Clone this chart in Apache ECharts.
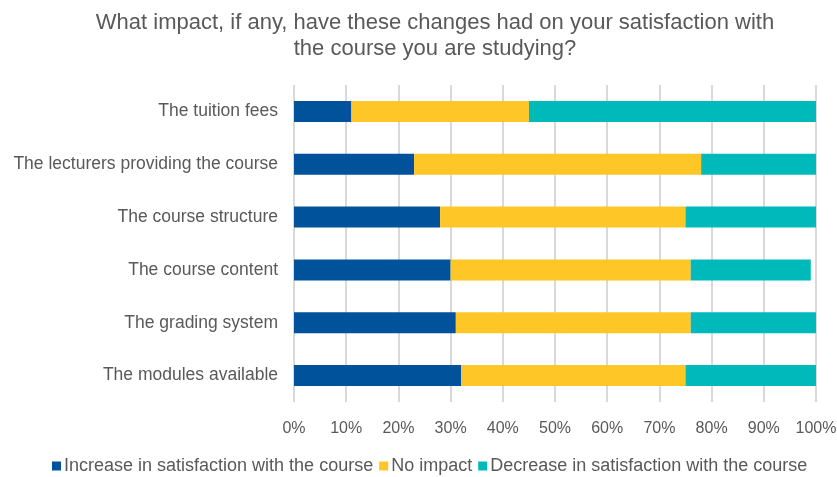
<!DOCTYPE html>
<html>
<head>
<meta charset="utf-8">
<script src="https://cdn.jsdelivr.net/npm/echarts@6/dist/echarts.min.js"></script>
<style>
  html, body { margin: 0; padding: 0; background: #fff; }
  #chart { width: 837px; height: 477px; }
</style>
</head>
<body>
<div id="chart"></div>
<script>
// Survey: effect of course changes on satisfaction (share of respondents, %)
const categories = [
  'The tuition fees',
  'The lecturers providing the course',
  'The course structure',
  'The course content',
  'The grading system',
  'The modules available'
];
const increaseValues = [11, 23, 28, 30, 31, 32];
const noImpactValues = [34, 55, 47, 46, 45, 43];
const decreaseValues = [55, 22, 25, 23, 24, 25];
const tickLabels = ['0%', '10%', '20%', '30%', '40%', '50%', '60%', '70%', '80%', '90%', '100%'];

const seriesNames = [
  'Increase in satisfaction with the course',
  'No impact',
  'Decrease in satisfaction with the course'
];
const colors = ['#00529B', '#FFC627', '#00B9BA'];
const textColor = '#595959';
const font = '"Liberation Sans", Arial, sans-serif';

const chart = echarts.init(document.getElementById('chart'), null, { renderer: 'canvas' });

function bar(name, data, color) {
  return {
    name: name,
    type: 'bar',
    stack: 'total',
    data: data,
    barWidth: 21,
    itemStyle: { color: color },
    emphasis: { disabled: true }
  };
}

chart.setOption({
  animation: false,
  color: colors,
  title: {
    text: 'What impact, if any, have these changes had on your satisfaction with\nthe course you are studying?',
    left: 430,
    textAlign: 'center',
    top: 5,
    textStyle: {
      fontFamily: font,
      fontSize: 22,
      fontWeight: 'normal',
      color: textColor,
      lineHeight: 26
    }
  },
  legend: {
    top: 452,
    left: 47,
    itemWidth: 9,
    itemHeight: 9,
    itemGap: 6,
    icon: 'rect',
    textStyle: { fontFamily: font, fontSize: 18, color: textColor, padding: [0, 0, 0, -2] },
    data: seriesNames
  },
  grid: { left: 294, right: 21, top: 85, bottom: 75, containLabel: false, outerBoundsMode: 'none' },
  xAxis: {
    type: 'value',
    min: 0,
    max: 100,
    interval: 10,
    axisLine: { show: false },
    axisTick: { show: false },
    splitLine: { show: true, lineStyle: { color: '#D9D9D9', width: 2 } },
    axisLabel: {
      color: textColor,
      fontFamily: font,
      fontSize: 16,
      margin: 19,
      formatter: function (v) { return tickLabels[Math.round(v / 10)]; }
    }
  },
  yAxis: {
    type: 'category',
    data: categories,
    inverse: true,
    axisLine: { show: false },
    axisTick: { show: false },
    axisLabel: { color: textColor, fontFamily: font, fontSize: 17.5, margin: 16 }
  },
  series: [
    bar(seriesNames[0], increaseValues, colors[0]),
    bar(seriesNames[1], noImpactValues, colors[1]),
    bar(seriesNames[2], decreaseValues, colors[2])
  ]
});
</script>
</body>
</html>
